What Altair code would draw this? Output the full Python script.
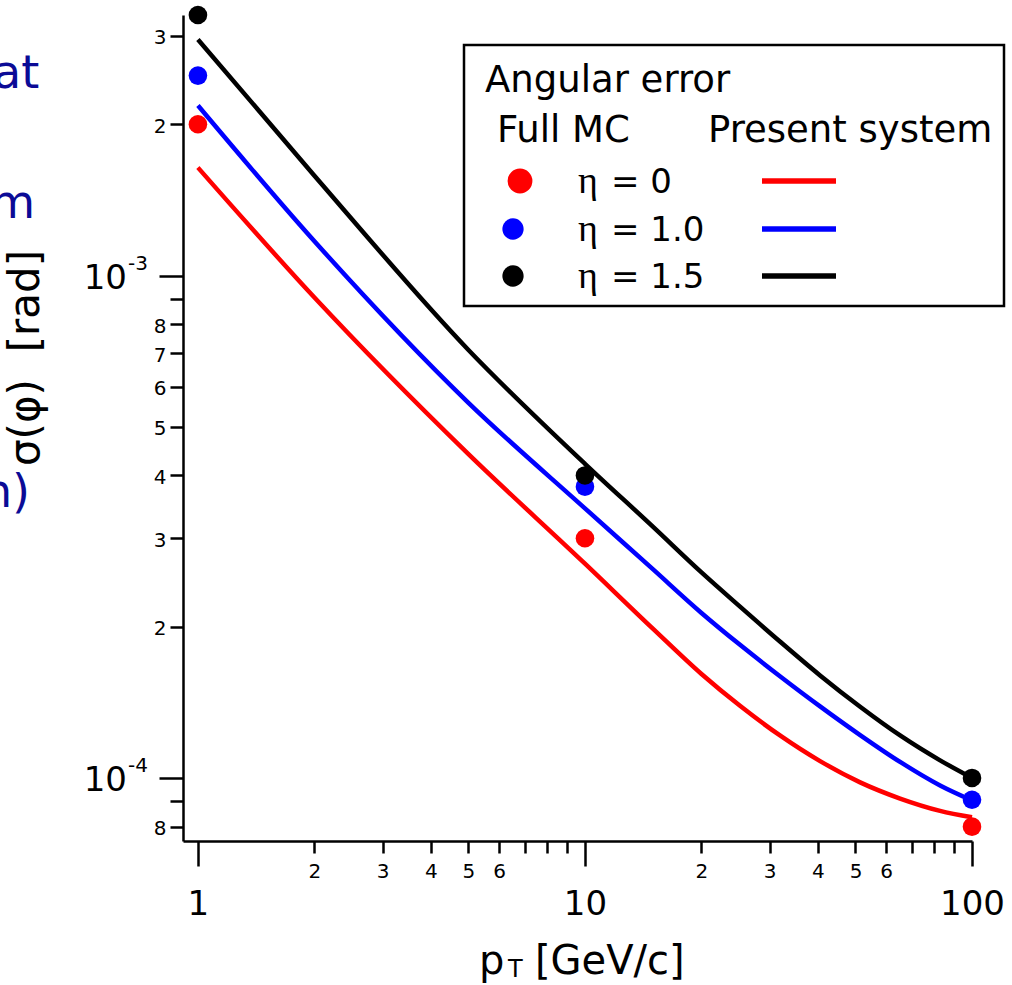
import altair as alt
import pandas as pd

# ---------------- data ----------------
series = ["η = 0", "η = 1.0", "η = 1.5"]
colors = ["#ff0000", "#0000ff", "#000000"]

# Full MC points
mc_pt = [1, 10, 100]
mc_eta0 = [2.0e-3, 3.0e-4, 8.0e-5]
mc_eta10 = [2.5e-3, 3.8e-4, 9.05e-5]
mc_eta15 = [3.3e-3, 4.0e-4, 1.0e-4]

# Present system curves
sys_pt = [1, 2, 5, 10, 15, 20, 25.2, 31.9, 40.5, 51.4, 65.2, 82.7, 100]
sys_eta0 = [1.64e-3, 9.04e-4, 4.41e-4, 2.67e-4, 1.98e-4, 1.61e-4, 1.39e-4,
            1.215e-4, 1.08e-4, 9.8e-5, 9.1e-5, 8.6e-5, 8.35e-5]
sys_eta10 = [2.18e-3, 1.17e-3, 5.58e-4, 3.44e-4, 2.6e-4, 2.13e-4, 1.838e-4,
             1.594e-4, 1.388e-4, 1.217e-4, 1.076e-4, 9.66e-5, 9.02e-5]
sys_eta15 = [2.95e-3, 1.58e-3, 7.11e-4, 4.22e-4, 3.16e-4, 2.565e-4, 2.19e-4,
             1.869e-4, 1.60e-4, 1.386e-4, 1.215e-4, 1.084e-4, 1.0e-4]

x_ticks = [1, 2, 3, 4, 5, 6, 7, 8, 9, 10, 20, 30, 40, 50, 60, 70, 80, 90, 100]
y_ticks = [8e-5, 9e-5, 1e-4, 2e-4, 3e-4, 4e-4, 5e-4, 6e-4, 7e-4, 8e-4, 9e-4,
           1e-3, 2e-3, 3e-3]
y_major = [1e-3, 1e-4]
y_major_mant = ["10", "10"]
y_major_exp = ["-3", "-4"]

legend_title = "Angular error"
legend_col1 = "Full MC"
legend_col2 = "Present system"
y_title = "σ(φ)\u00a0\u00a0[rad]"
x_title_main = "p"
x_title_sub = "T"
x_title_unit = "[GeV/c]"
side_fragments = ["at", "m", "n)"]

# ---------------- tables ----------------
mc_rows = []
for s, vals in zip(series, [mc_eta0, mc_eta10, mc_eta15]):
    for p, v in zip(mc_pt, vals):
        mc_rows.append({"pt": p, "sigma": v, "series": s})
mc_df = pd.DataFrame(mc_rows)

sys_rows = []
for s, vals in zip(series, [sys_eta0, sys_eta10, sys_eta15]):
    for p, v in zip(sys_pt, vals):
        sys_rows.append({"pt": p, "sigma": v, "series": s})
sys_df = pd.DataFrame(sys_rows)

ymaj_df = pd.DataFrame({"v": y_major, "m": y_major_mant, "e": y_major_exp})
one = pd.DataFrame({"a": [0]})

FONT = "DejaVu Sans"
W, H = 789, 826

xscale = alt.Scale(type="log", domain=[0.915, 100], nice=False)
yscale = alt.Scale(type="log", domain=[7.49e-5, 3.3e-3], nice=False)
cscale = alt.Scale(domain=series, range=colors)

MAJ = "abs(log(datum.value)/LN10 - round(log(datum.value)/LN10)) < 0.001"
DIG = "round(datum.value / pow(10, floor(log(datum.value)/LN10 + 0.001)))"

x_axis = alt.Axis(
    values=x_ticks, title="", grid=False,
    labelExpr=f"({MAJ}) ? '' + datum.value : (({DIG}) <= 6 ? '' + ({DIG}) : '')",
    domainColor="black", domainWidth=2.5, tickColor="black", tickWidth=2.5,
    tickSize={"condition": {"test": MAJ, "value": 25}, "value": 12},
    labelFontSize={"condition": {"test": MAJ, "value": 34}, "value": 20},
    labelPadding={"condition": {"test": MAJ, "value": 21}, "value": 8},
    labelFont=FONT, labelColor="black", labelFlush=False, labelOverlap=False,
    labelAngle=0,
)
y_axis = alt.Axis(
    values=y_ticks, title="", grid=False,
    labelExpr=f"(({MAJ}) || ({DIG}) == 9) ? '' : '' + ({DIG})",
    domainColor="black", domainWidth=2.5, tickColor="black", tickWidth=2.5,
    tickSize={"condition": {"test": MAJ, "value": 24}, "value": 13},
    labelFontSize=20, labelPadding=4, labelOffset=2,
    labelFont=FONT, labelColor="black", labelFlush=False, labelOverlap=False,
)

X = lambda f: alt.X(f, scale=xscale, axis=x_axis)
Y = lambda f: alt.Y(f, scale=yscale, axis=y_axis)

lines = alt.Chart(sys_df).mark_line(strokeWidth=4.5, interpolate="monotone").encode(
    x=X("pt:Q"), y=Y("sigma:Q"),
    color=alt.Color("series:N", scale=cscale, legend=None),
    detail="series:N",
)
points = alt.Chart(mc_df).mark_circle(size=346, opacity=1).encode(
    x=X("pt:Q"), y=Y("sigma:Q"),
    color=alt.Color("series:N", scale=cscale, legend=None),
)

ymant = alt.Chart(ymaj_df).mark_text(font=FONT, fontSize=34, align="right",
                                     baseline="alphabetic", dy=13, color="black").encode(
    x=alt.value(-56), y=Y("v:Q"), text="m:N")
yexp = alt.Chart(ymaj_df).mark_text(font=FONT, fontSize=20, align="left",
                                    baseline="alphabetic", dy=-6, color="black").encode(
    x=alt.value(-55), y=Y("v:Q"), text="e:N")

layers = [lines, points, ymant, yexp]

def txt(s, x, y, size, font=FONT, align="left", color="black", angle=0):
    kw = dict(text=s, font=font, fontSize=size, align=align, baseline="alphabetic", color=color)
    if angle:
        kw["angle"] = angle
    return alt.Chart(one).mark_text(**kw).encode(x=alt.value(x), y=alt.value(y))

# legend box
box = alt.Chart(one).mark_rect(fill="white", stroke="black", strokeWidth=2.5).encode(
    x=alt.value(281), x2=alt.value(821), y=alt.value(30), y2=alt.value(291))
layers.append(box)
layers.append(txt(legend_title, 302, 77, 37))
layers.append(txt(legend_col1, 314, 127, 37))
layers.append(txt(legend_col2, 525, 127, 37))

row_y = [166, 214, 261]
dot_x = [337, 330, 330]
dot_size = [616, 452, 452]
for i, s in enumerate(series):
    cy = row_y[i]
    layers.append(alt.Chart(one).mark_circle(size=dot_size[i], opacity=1, color=colors[i]).encode(
        x=alt.value(dot_x[i]), y=alt.value(cy)))
    eta, rest = s.split(" ", 1)
    layers.append(txt(eta, 395, cy + 12, 38, font="Liberation Serif, DejaVu Serif, serif"))
    layers.append(txt(rest, 428, cy + 12, 34))
    layers.append(alt.Chart(one).mark_rule(strokeWidth=5.5, color=colors[i]).encode(
        x=alt.value(579), x2=alt.value(653), y=alt.value(cy)))

# axis titles
layers.append(txt(y_title, -144, 343, 42, align="center", angle=270))
layers.append(txt(x_title_main, 296, 959, 40))
layers.append(txt(x_title_sub, 325, 962, 24))
layers.append(txt(x_title_unit, 352, 959, 40))

# cropped fragments of neighbouring slide text
BLUE = "#0b0b96"
layers.append(txt(side_fragments[0], -190, 73, 46, color=BLUE))
layers.append(txt(side_fragments[1], -148, 203, 46, align="right", color=BLUE))
layers.append(txt(side_fragments[2], -153, 492, 46, align="right", color=BLUE))

chart = alt.layer(*layers).properties(
    width=W, height=H,
    autosize=alt.AutoSizeParams(type="none"),
    padding={"left": 183, "top": 15, "right": 40, "bottom": 144},
    background="white",
).configure_view(stroke=None)

chart.save("out.html", embed_options={"renderer": "svg", "actions": False})
